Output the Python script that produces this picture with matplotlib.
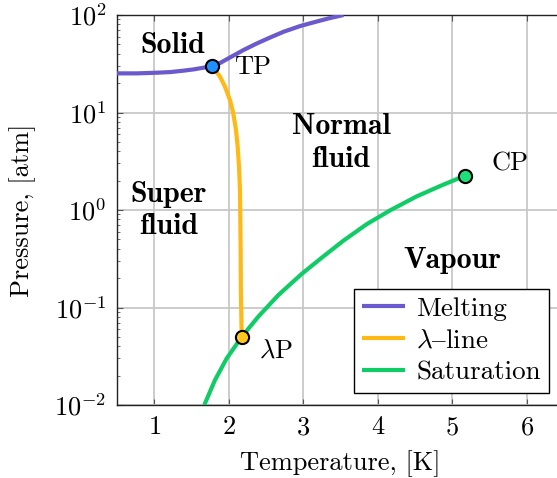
import numpy as np
import matplotlib.pyplot as plt

plt.rcParams['font.family'] = ['cmr10', 'DejaVu Serif']
plt.rcParams['mathtext.fontset'] = 'cm'
plt.rcParams['axes.formatter.use_mathtext'] = True
plt.rcParams['axes.unicode_minus'] = True

# melting curve (T in K, P in atm)
melt_T = [0.5, 0.77, 1.04, 1.22, 1.40, 1.53, 1.66, 1.775, 1.89, 2.02, 2.20,
          2.38, 2.56, 2.74, 2.96, 3.19, 3.36, 3.54]
melt_P = [25.2, 25.2, 25.6, 26.0, 26.9, 27.7, 28.8, 30.0, 32.4, 36.8, 43.8,
          51.2, 59.0, 67.5, 77.1, 86.1, 93.1, 100.0]

# lambda line
lam_T = [1.775, 1.815, 1.883, 1.950, 2.017, 2.061, 2.097, 2.120, 2.138, 2.151,
         2.155, 2.160, 2.163, 2.174]
lam_P = [30.0, 27.3, 23.3, 18.4, 13.4, 9.8, 6.62, 4.46, 2.78, 1.60,
         0.853, 0.389, 0.151, 0.050]

# saturated vapour pressure
sat_T = [1.672, 1.815, 1.972, 2.174, 2.397, 2.665, 2.979, 3.248, 3.538, 3.852,
         4.164, 4.523, 4.836, 5.171]
sat_P = [0.010, 0.0180, 0.0300, 0.050, 0.0806, 0.134, 0.221, 0.324, 0.484,
         0.716, 0.99, 1.38, 1.76, 2.25]

# special points
pt_T = [1.775, 2.174, 5.171]
pt_P = [30.0, 0.050, 2.25]
pt_colors = ["#1e90ff", "#ffc81e", "#1ee07a"]

purple = "#6a5acd"
orange = "#ffb914"
green = "#10cc66"

fig = plt.figure(figsize=(5.57, 4.78), dpi=100)
ax = fig.add_axes([0.210, 0.1527, 0.8026, 0.8159])

line_kw = dict(lw=3, solid_joinstyle="round", solid_capstyle="butt", zorder=3)
ax.plot(melt_T, melt_P, color=purple, label="Melting", **line_kw)
ax.plot(lam_T, lam_P, color=orange, label=r"$\lambda\mathrm{–}$line", **line_kw)
ax.plot(sat_T, sat_P, color=green, label="Saturation", **line_kw)

for T, P, c in zip(pt_T, pt_P, pt_colors):
    ax.plot(T, P, "o", ms=9.5, mfc=c, mec="black", mew=1.5, zorder=5)

ax.set_yscale("log")
ax.set_xlim(0.5, 6.5)
ax.set_ylim(1e-2, 1e2)
ax.set_xticks([1, 2, 3, 4, 5, 6])
ax.set_yticks([1e-2, 1e-1, 1e0, 1e1, 1e2])
ax.grid(True, which="major", color="#c8c8c8", lw=1.3)
ax.set_axisbelow(True)
ax.tick_params(which="both", direction="in", top=True, right=True,
               labelsize=19, color="#555555")
ax.tick_params(which="major", length=4, pad=7.5)
ax.tick_params(which="minor", length=2.5)
for s in ax.spines.values():
    s.set_linewidth(1.0)
    s.set_color("#222222")

ax.set_xlabel("Temperature, [K]", fontsize=19, labelpad=8)
ax.set_ylabel("Pressure, [atm]", fontsize=19, labelpad=13)

# region labels
bold = dict(fontsize=21.5, family="cmb10", ha="center", va="center")
ax.text(1.25, 49, "Solid", **bold)
ax.text(3.51, 4.86, "Normal\nfluid", linespacing=1.25, **bold)
ax.text(1.19, 0.98, "Super\nfluid", linespacing=1.25, **bold)
ax.text(5.0, 0.30, "Vapour", **bold)

# point labels
ax.text(2.07, 29.0, "TP", fontsize=19, va="center", ha="left")
ax.text(2.41, 0.036, r"$\lambda$P", fontsize=19, va="center", ha="left")
ax.text(5.52, 3.0, "CP", fontsize=19, va="center", ha="left")

leg = ax.legend(loc="lower right", bbox_to_anchor=(0.966, 0.031),
                fontsize=19.5, fancybox=False, framealpha=1, edgecolor="black",
                handlelength=1.6, borderpad=0.3, labelspacing=0.3,
                handletextpad=0.4, borderaxespad=0)
leg.get_frame().set_linewidth(1.0)

fig.savefig("out.png", dpi=100)
